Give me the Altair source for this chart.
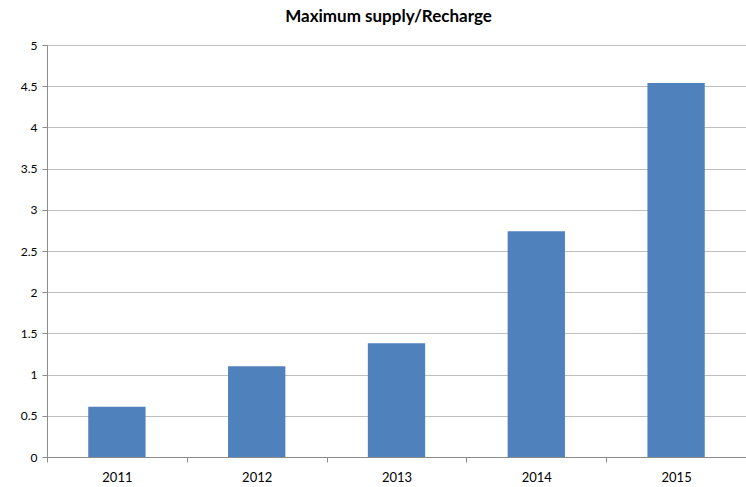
import altair as alt
import pandas as pd

years = ["2011", "2012", "2013", "2014", "2015"]
values = [0.61, 1.10, 1.38, 2.74, 4.54]

df = pd.DataFrame({"year": years, "value": values})

FONT = "Lato"

chart = alt.Chart(df).mark_bar(color="#4f81bd", width=alt.RelativeBandSize(0.41)).encode(
    x=alt.X("year:N", title=None,
            scale=alt.Scale(paddingInner=0, paddingOuter=0),
            axis=alt.Axis(labelAngle=0, tickBand="extent", ticks=True, tickSize=5,
                          tickColor="#8c8c8c", domainColor="#8c8c8c", labelPadding=9,
                          labelFontSize=13, labelColor="#000000", labelFont=FONT,
                          grid=False)),
    y=alt.Y("value:Q", title=None,
            scale=alt.Scale(domain=[0, 5], nice=False),
            axis=alt.Axis(values=[0, 0.5, 1, 1.5, 2, 2.5, 3, 3.5, 4, 4.5, 5],
                          format="~g",
                          tickSize=5, tickColor="#8c8c8c", domainColor="#8c8c8c",
                          gridColor="#bfbfbf", labelPadding=5, labelFontSize=12,
                          labelColor="#000000", labelFont=FONT)),
).properties(
    width=699,
    height=412,
    title=alt.TitleParams("Maximum supply/Recharge", font=FONT, fontSize=17,
                          fontWeight="bold", color="#000000", offset=13, dx=-8),
    padding={"left": 47, "top": 45, "right": 0, "bottom": 30},
    autosize=alt.AutoSizeParams(type="none"),
).configure_view(stroke=None)

chart.save("out.html", embed_options={"renderer": "svg", "actions": False})
